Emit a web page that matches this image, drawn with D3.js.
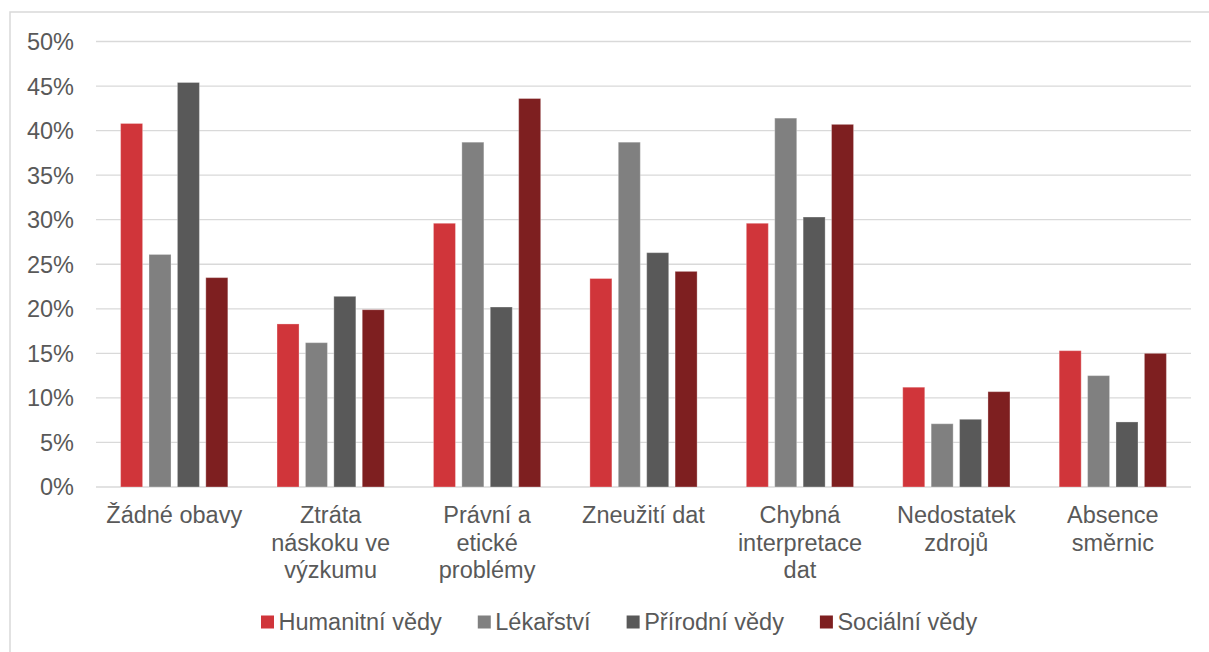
<!DOCTYPE html>
<html>
<head>
<meta charset="utf-8">
<script src="https://cdn.jsdelivr.net/npm/d3@7"></script>
<style>
  body { margin: 0; background: #fff; }
  text { font-family: "Liberation Sans", Arial, sans-serif; fill: #595959; }
</style>
</head>
<body>
<script>
// data
const categories = [
    "Žádné obavy",
    "Ztráta\nnáskoku ve\nvýzkumu",
    "Právní a\netické\nproblémy",
    "Zneužití dat",
    "Chybná\ninterpretace\ndat",
    "Nedostatek\nzdrojů",
    "Absence\nsměrnic"
]
const seriesNames = ["Humanitní vědy", "Lékařství", "Přírodní vědy", "Sociální vědy"]
const humanitni = [40.8, 18.3, 29.6, 23.4, 29.6, 11.2, 15.3]
const lekarstvi = [26.1, 16.2, 38.7, 38.7, 41.4, 7.1, 12.5]
const prirodni  = [45.4, 21.4, 20.2, 26.3, 30.3, 7.6, 7.3]
const socialni  = [23.5, 19.9, 43.6, 24.2, 40.7, 10.7, 15.0]
const yTicks = [0, 5, 10, 15, 20, 25, 30, 35, 40, 45, 50]

const seriesValues = [humanitni, lekarstvi, prirodni, socialni]
const colors = ["#d0353a", "#808080", "#595959", "#7e1f20"]

const width = 1209, height = 652
const plot = { left: 96, right: 1191, top: 41.5, bottom: 487 }

const svg = d3.select("body").append("svg")
    .attr("width", width)
    .attr("height", height)

// outer frame (only left and top edges are visible in the picture)
svg.append("rect")
    .attr("x", 10).attr("y", 12)
    .attr("width", width + 20).attr("height", height + 20)
    .attr("fill", "none")
    .attr("stroke", "#d9d9d9")
    .attr("stroke-width", 1.5)

const y = d3.scaleLinear().domain([0, 50]).range([plot.bottom, plot.top])
const x0 = d3.scaleBand().domain(categories).range([plot.left, plot.right]).padding(0)
const x1 = d3.scaleBand().domain(d3.range(4)).range([0, x0.bandwidth()])
    .paddingInner(0.225).paddingOuter(0.866)

// gridlines
svg.append("g")
    .selectAll("line")
    .data(yTicks)
    .enter()
    .append("line")
    .attr("x1", plot.left).attr("x2", plot.right)
    .attr("y1", d => y(d)).attr("y2", d => y(d))
    .attr("stroke", "#d9d9d9")
    .attr("stroke-width", 1.3)

// y tick labels
svg.append("g")
    .selectAll("text")
    .data(yTicks)
    .enter()
    .append("text")
    .attr("x", 74)
    .attr("y", d => y(d))
    .attr("dy", "0.36em")
    .attr("text-anchor", "end")
    .style("font-size", "23.5px")
    .text(d => d + "%")

// bars
const groups = svg.append("g")
    .selectAll("g")
    .data(categories)
    .enter()
    .append("g")
    .attr("transform", d => "translate(" + x0(d) + ",0)")

groups.selectAll("rect")
    .data((d, i) => seriesValues.map((s, k) => ({ k: k, v: s[i] })))
    .enter()
    .append("rect")
    .attr("x", d => x1(d.k))
    .attr("y", d => y(d.v))
    .attr("width", x1.bandwidth())
    .attr("height", d => y(0) - y(d.v))
    .attr("fill", d => colors[d.k])
    .attr("stroke", "rgba(255,255,255,0.3)")
    .attr("stroke-width", 1)

// category labels, wrapped as in the picture
const catLabels = svg.append("g")
    .selectAll("text")
    .data(categories)
    .enter()
    .append("text")
    .attr("text-anchor", "middle")
    .style("font-size", "23.5px")
    .attr("transform", d => "translate(" + (x0(d) + x0.bandwidth() / 2) + ",523)")

catLabels.selectAll("tspan")
    .data(d => d.split("\n"))
    .enter()
    .append("tspan")
    .attr("x", 0)
    .attr("y", (d, i) => i * 27.5)
    .text(d => d)

// legend
const legend = svg.append("g").attr("transform", "translate(261,622)")
let lx = 0
seriesNames.forEach(function (name, k) {
    legend.append("rect")
        .attr("x", lx).attr("y", -6.5)
        .attr("width", 13).attr("height", 13)
        .attr("fill", colors[k])
    const t = legend.append("text")
        .attr("x", lx + 17.5)
        .attr("y", 0)
        .attr("dy", "0.36em")
        .style("font-size", "23.5px")
        .text(name)
    lx += 17.5 + t.node().getComputedTextLength() + 36
})
</script>
</body>
</html>
